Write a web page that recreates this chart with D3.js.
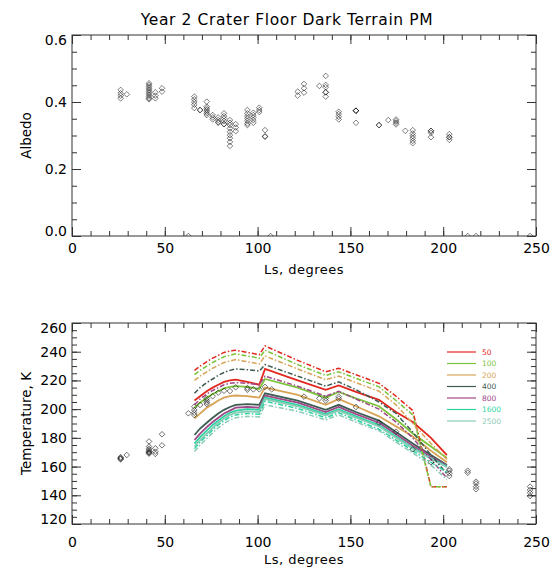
<!DOCTYPE html>
<html lang="en">
<head>
<meta charset="utf-8">
<title>Year 2 Crater Floor Dark Terrain PM</title>
<script src="https://cdn.jsdelivr.net/npm/d3@7"></script>
<style>
  body { margin: 0; background: #fff; }
  text { font-family: "DejaVu Sans", sans-serif; }
</style>
</head>
<body>
<script>

// ---------- data ----------

// albedo observations [Ls, albedo]
var albedoObs = [
  [26.2,0.436],[26.2,0.426],[26.2,0.419],[26.2,0.411],[29.5,0.423],
  [41.5,0.456],[41.5,0.451],[41.5,0.446],[41.5,0.441],[41.5,0.436],[41.5,0.431],
  [41.5,0.426],[41.5,0.421],[41.5,0.416],[41.5,0.411],[41.5,0.408],
  [44.9,0.429],[44.9,0.419],[44.9,0.411],[48.5,0.441],[48.5,0.431],
  [62.7,0.0],
  [65.9,0.416],[65.9,0.408],[65.9,0.400],[65.9,0.392],[65.9,0.382],
  [69.0,0.376],[69.0,0.376],
  [72.6,0.401],[72.6,0.386],[72.6,0.381],[72.6,0.376],[72.6,0.371],[72.6,0.366],[72.6,0.361],
  [75.8,0.361],[75.8,0.354],[75.8,0.348],
  [78.8,0.354],[78.8,0.346],[78.8,0.340],[78.8,0.338],
  [81.9,0.366],[81.9,0.358],[81.9,0.351],[81.9,0.343],[81.9,0.334],[81.9,0.334],
  [85.1,0.346],[85.1,0.338],[85.1,0.331],[85.1,0.321],[85.1,0.311],[85.1,0.301],
  [85.1,0.292],[85.1,0.281],[85.1,0.269],
  [88.2,0.334],[88.2,0.324],[88.2,0.313],
  [94.5,0.376],[94.5,0.366],[94.5,0.358],[94.5,0.351],[94.5,0.344],[94.5,0.336],[94.5,0.331],
  [97.7,0.368],[97.7,0.361],[97.7,0.354],[97.7,0.346],[97.7,0.338],
  [100.9,0.383],[100.9,0.376],[100.9,0.370],
  [104.0,0.316],[104.0,0.298],[104.0,0.296],
  [107.0,0.0],
  [121.6,0.431],[121.6,0.419],
  [125.0,0.454],[125.0,0.441],[125.0,0.428],
  [133.3,0.448],
  [136.7,0.478],[136.7,0.451],[136.7,0.444],[136.7,0.429],[136.7,0.429],[136.7,0.416],
  [143.7,0.371],[143.7,0.364],[143.7,0.356],[143.7,0.348],
  [153.0,0.374],[153.0,0.374],[153.0,0.374],[153.0,0.338],
  [165.4,0.331],[165.4,0.331],[170.4,0.346],
  [174.6,0.348],[174.6,0.343],[174.6,0.338],[174.6,0.333],
  [179.6,0.314],
  [183.6,0.316],[183.6,0.306],[183.6,0.299],[183.6,0.292],[183.6,0.284],[183.6,0.277],
  [193.4,0.314],[193.4,0.314],[193.4,0.308],[193.4,0.295],
  [203.3,0.304],[203.3,0.295],[203.3,0.295],[203.3,0.287],
  [213.2,0.0],[217.7,0.0],[246.8,0.0]
];

// temperature observations [Ls, K]
var tempObs = [
  [26.2,166.5],[26.2,166],[26.2,165.5],[26.2,165],[29.5,168.1],
  [41.5,177.5],[41.5,174],[41.5,172.5],[41.5,171.5],[41.5,170.5],[41.5,170],[41.5,169.5],[41.5,169],
  [44.9,172.7],[44.9,170.4],[44.9,168.8],[48.5,182.5],[48.5,174.8],
  [62.7,197.1],
  [65.9,201.7],[65.9,199.4],[65.9,197.5],[65.9,195.9],
  [69.0,202.9],
  [72.6,207.5],[72.6,206.1],[72.6,204.8],[72.6,203.6],
  [75.8,209],[78.8,211.5],[81.9,212.8],[85.1,212.6],[88.2,215.2],
  [94.5,214.7],[94.5,213.5],[97.7,213.8],[100.9,213.8],[104.0,215.5],[107.6,213.8],
  [125.0,208.7],[133.3,207.5],[136.7,207.5],[136.7,205.9],
  [143.7,208.7],[143.7,207.3],[153.0,201.5],
  [165.4,190.6],[174.6,184.3],[183.6,172],[193.4,163],
  [203.3,158.1],[203.3,157.1],[203.3,155.3],[203.3,153.4],
  [213.2,157.1],[213.2,155.7],
  [217.7,149.5],[217.7,148.2],[217.7,146],[217.7,144.2],
  [246.8,146],[246.8,143.7],[246.8,141.8],[246.8,139.5]
];

// model curves, one value per Ls in curveLs
var curveLs = [66, 69, 72.6, 75.8, 78.8, 81.9, 85.1, 88.2, 94.5, 100.9, 104, 121.6, 136.7, 143.7, 153, 165.4, 174.6, 183.6, 193.4, 202];

var thermalInertia = [50, 100, 200, 400, 800, 1600, 2500];

var solid50   = [206, 209, 212.5, 215, 217, 219, 220, 220.5, 219, 217, 228, 220, 213.5, 216.5, 212, 206.5, 198, 191, 180, 168];
var solid100  = [201, 204.5, 208, 210.5, 212.5, 214.5, 215.5, 216, 215.5, 214, 221, 215, 208, 212, 207.5, 202, 193, 183, 174, 166];
var solid200  = [193.5, 197, 201, 203.5, 206, 208, 209, 209.5, 209, 208, 215, 210, 203, 207, 202, 195, 188, 181, 171, 163];
var solid400  = [182, 186.5, 190.5, 194, 197, 199.5, 201.5, 203, 203.5, 203, 211, 206, 199.5, 203, 198, 192, 184, 176, 168, 161];
var solid800  = [178.5, 183, 187.5, 191, 194, 197, 199, 201, 201.5, 201, 209.5, 204.5, 198, 201.5, 196.5, 190.5, 182.5, 174.5, 167, 160.5];
var solid1600 = [176, 180.5, 185, 189, 192, 195, 197.5, 199, 200, 199.5, 208, 203, 196.5, 200, 195, 189, 181, 173, 166, 160];
var solid2500 = [174, 178.5, 183, 187, 190.5, 193.5, 196, 197.5, 198.5, 198, 207, 202, 195.5, 199, 194, 188, 180, 172.5, 165.5, 159.5];

var dash50   = [227, 230, 233, 235.5, 237.5, 239.5, 240.5, 241, 239.5, 238, 244, 234, 226, 228.5, 224, 218, 209, 199, 146, 146];
var dash100  = [224, 227, 230, 232.5, 234.5, 236.5, 237.5, 238.5, 237, 235.5, 241, 231, 223.5, 226, 221.5, 215.5, 206, 196, 146, 146];
var dash200  = [220, 223, 226, 228.5, 230.5, 232.5, 233.5, 234.5, 233, 231.5, 237, 228, 220.5, 223, 218.5, 212.5, 203, 190, 176, 165];
var dash400  = [211, 215, 218.5, 221, 223.5, 225.5, 227, 228, 227.5, 226.5, 231, 223, 216, 219, 213.5, 205, 197, 184, 168, 155];
var dash800  = [203, 207, 210.5, 213, 215, 217, 218, 218.5, 218, 217, 223, 216, 209, 212.5, 207, 200, 191, 180, 165, 152];
var dash1600 = [172.5, 177, 181.5, 185.5, 189, 192, 194.5, 196, 197, 196.5, 205.5, 200.5, 194, 197.5, 192.5, 186, 178.5, 171, 163, 156];
var dash2500 = [170.5, 175, 179.5, 183.5, 187, 190, 192.5, 194, 195, 194.5, 203, 198.5, 192.5, 196, 191, 185, 177, 169.5, 161, 151];

var solidCurves = [solid50, solid100, solid200, solid400, solid800, solid1600, solid2500];
var dashCurves  = [dash50, dash100, dash200, dash400, dash800, dash1600, dash2500];

// tick values
var xMajor = [0, 50, 100, 150, 200, 250];
var albedoMajor = [0, 0.2, 0.4, 0.6];
var tempMajor = [120, 140, 160, 180, 200, 220, 240, 260];

// ---------- styles ----------
var tiColors = ["#e2281e", "#7cc43c", "#d8a458", "#3d5c52", "#a0488a", "#2ed4a0", "#8ccab8"];
var frameColor = "#333";

var w = 554, h = 569;
var left = 72, right = 536;

var svg = d3.select("body")
  .append("svg")
  .attr("width", w)
  .attr("height", h);

var x = d3.scaleLinear().domain([0, 250]).range([left, right]);
var yA = d3.scaleLinear().domain([0, 0.6]).range([236, 35]);
var yT = d3.scaleLinear().domain([120, 260]).range([524, 323]);

// clip for the albedo panel (points at 0 are cut by the axis)
svg.append("clipPath")
  .attr("id", "clipA")
  .append("rect")
  .attr("x", left).attr("y", 35)
  .attr("width", right - left).attr("height", 236 - 35);

// draws box, inward ticks on all sides, tick labels, axis titles
function drawFrame(yScale, yMajor, yMinor, yFormat, labelPad, yTitle, xTitleY) {
  var top = yScale.range()[1], bottom = yScale.range()[0];
  var g = svg.append("g");

  var xMinor = d3.range(0, 251, 10);

  // bottom
  g.append("g").attr("transform", "translate(0," + bottom + ")")
    .call(d3.axisBottom(x).tickValues(xMinor).tickSize(-5).tickFormat(""));
  g.append("g").attr("class", "lab").attr("transform", "translate(0," + bottom + ")")
    .call(d3.axisBottom(x).tickValues(xMajor).tickSize(-9).tickPadding(labelPad).tickFormat(d3.format("d")));
  // top
  g.append("g").attr("transform", "translate(0," + top + ")")
    .call(d3.axisTop(x).tickValues(xMinor).tickSize(-5).tickFormat(""));
  g.append("g").attr("transform", "translate(0," + top + ")")
    .call(d3.axisTop(x).tickValues(xMajor).tickSize(-9).tickFormat(""));
  // left
  g.append("g").attr("transform", "translate(" + left + ",0)")
    .call(d3.axisLeft(yScale).tickValues(yMinor).tickSize(-5).tickFormat(""));
  var yl = g.append("g").attr("class", "lab").attr("transform", "translate(" + left + ",0)")
    .call(d3.axisLeft(yScale).tickValues(yMajor).tickSize(-9).tickPadding(5).tickFormat(yFormat));
  // right
  g.append("g").attr("transform", "translate(" + right + ",0)")
    .call(d3.axisRight(yScale).tickValues(yMinor).tickSize(-5).tickFormat(""));
  g.append("g").attr("transform", "translate(" + right + ",0)")
    .call(d3.axisRight(yScale).tickValues(yMajor).tickSize(-9).tickFormat(""));

  g.selectAll(".domain").remove();
  g.selectAll(".tick line").attr("stroke", frameColor);
  g.selectAll(".lab text")
    .attr("fill", "#000")
    .style("font-size", "14px");

  // first and last y labels pulled inside the axis span
  var labs = yl.selectAll(".tick text").nodes();
  d3.select(labs[0]).attr("y", -5);
  d3.select(labs[labs.length - 1]).attr("y", 5);

  g.append("rect")
    .attr("x", left).attr("y", top)
    .attr("width", right - left).attr("height", bottom - top)
    .attr("fill", "none")
    .attr("stroke", frameColor)
    .attr("stroke-width", 1);

  g.append("text")
    .attr("transform", "translate(31," + ((top + bottom) / 2) + ") rotate(-90)")
    .attr("text-anchor", "middle")
    .style("font-size", "13.5px")
    .text(yTitle);

  g.append("text")
    .attr("x", (left + right) / 2)
    .attr("y", xTitleY)
    .attr("text-anchor", "middle")
    .style("font-size", "13px")
    .style("letter-spacing", "0.5px")
    .text("Ls, degrees");
}

function diamond(r) {
  return "M0," + (-r) + "L" + r + ",0L0," + r + "L" + (-r) + ",0Z";
}

// title
svg.append("text")
  .attr("x", 287)
  .attr("y", 25)
  .attr("text-anchor", "middle")
  .style("font-size", "15.5px")
  .style("letter-spacing", "0.6px")
  .text("Year 2 Crater Floor Dark Terrain PM");

// ---------- top panel: albedo ----------
drawFrame(yA, albedoMajor, d3.range(0, 0.6001, 0.05), d3.format(".1f"), 7, "Albedo", 274);

svg.append("g")
  .attr("clip-path", "url(#clipA)")
  .selectAll("path")
  .data(albedoObs)
  .enter()
  .append("path")
  .attr("transform", function(d) { return "translate(" + x(d[0]) + "," + yA(d[1]) + ")"; })
  .attr("d", diamond(2.8))
  .attr("fill", "none")
  .attr("stroke", "#000")
  .attr("stroke-opacity", 0.5)
  .attr("stroke-width", 1);

// ---------- bottom panel: temperature ----------
drawFrame(yT, tempMajor, d3.range(120, 261, 5), d3.format("d"), 13, "Temperature, K", 564);

var line = d3.line()
  .x(function(d, i) { return x(curveLs[i]); })
  .y(function(d) { return yT(d); });

var curves = svg.append("g");

curves.selectAll("path.solid")
  .data(solidCurves)
  .enter()
  .append("path")
  .attr("class", "solid")
  .attr("d", line)
  .attr("fill", "none")
  .attr("stroke", function(d, i) { return tiColors[i]; })
  .attr("stroke-width", 1.8);

curves.selectAll("path.dash")
  .data(dashCurves)
  .enter()
  .append("path")
  .attr("class", "dash")
  .attr("d", line)
  .attr("fill", "none")
  .attr("stroke", function(d, i) { return tiColors[i]; })
  .attr("stroke-width", 1.5)
  .attr("stroke-dasharray", "5,2,1.5,2");

svg.append("g")
  .selectAll("path")
  .data(tempObs)
  .enter()
  .append("path")
  .attr("transform", function(d) { return "translate(" + x(d[0]) + "," + yT(d[1]) + ")"; })
  .attr("d", diamond(2.8))
  .attr("fill", "none")
  .attr("stroke", "#000")
  .attr("stroke-opacity", 0.55)
  .attr("stroke-width", 1);

// legend
var legend = svg.append("g")
  .selectAll("g")
  .data(thermalInertia)
  .enter()
  .append("g")
  .attr("transform", function(d, i) { return "translate(447," + (352 + i * 11.5) + ")"; });

legend.append("line")
  .attr("x1", 0).attr("x2", 29)
  .attr("stroke", function(d, i) { return tiColors[i]; })
  .attr("stroke-width", 1.2);

legend.append("text")
  .attr("x", 35)
  .attr("dy", "0.35em")
  .attr("fill", function(d, i) { return tiColors[i]; })
  .style("font-size", "7.5px")
  .text(function(d) { return d; });

</script>
</body>
</html>
